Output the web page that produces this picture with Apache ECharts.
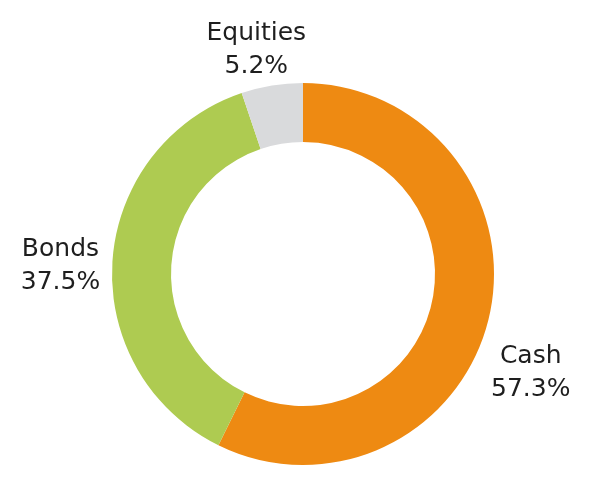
<!DOCTYPE html>
<html>
<head>
<meta charset="utf-8">
<script src="https://cdn.jsdelivr.net/npm/echarts@6/dist/echarts.min.js"></script>
<style>
  html, body { margin: 0; padding: 0; background: #fff; }
  #chart { width: 600px; height: 496px; }
</style>
</head>
<body>
<div id="chart"></div>
<script>
// allocation shares, clockwise from 12 o'clock
const categories = ['Cash', 'Bonds', 'Equities'];
const shares = [57.3, 37.5, 5.2];
const colors = ['#ee8a12', '#aecb51', '#d9dadc'];
// nudges for the outside labels so they sit where the original puts them
const labelNudge = [[27, 53], [-37, 5], [-9, -26]];

const chart = echarts.init(document.getElementById('chart'));

chart.setOption({
  animation: false,
  series: [{
    type: 'pie',
    center: [303, 274],
    radius: [132, 191],
    startAngle: 90,
    clockwise: true,
    avoidLabelOverlap: false,
    silent: true,
    data: categories.map((name, i) => ({
      name,
      value: shares[i],
      itemStyle: { color: colors[i] }
    })),
    label: {
      show: true,
      position: 'outside',
      formatter: (p) => p.name + '\n' + p.value.toFixed(1) + '%',
      fontFamily: 'DejaVu Sans',
      fontSize: 25,
      lineHeight: 33,
      color: '#1e1e1e'
    },
    labelLine: { show: false, length: 10, length2: 0 },
    labelLayout: (params) => ({
      align: 'center',
      dx: labelNudge[params.dataIndex][0],
      dy: labelNudge[params.dataIndex][1]
    })
  }]
});
</script>
</body>
</html>
